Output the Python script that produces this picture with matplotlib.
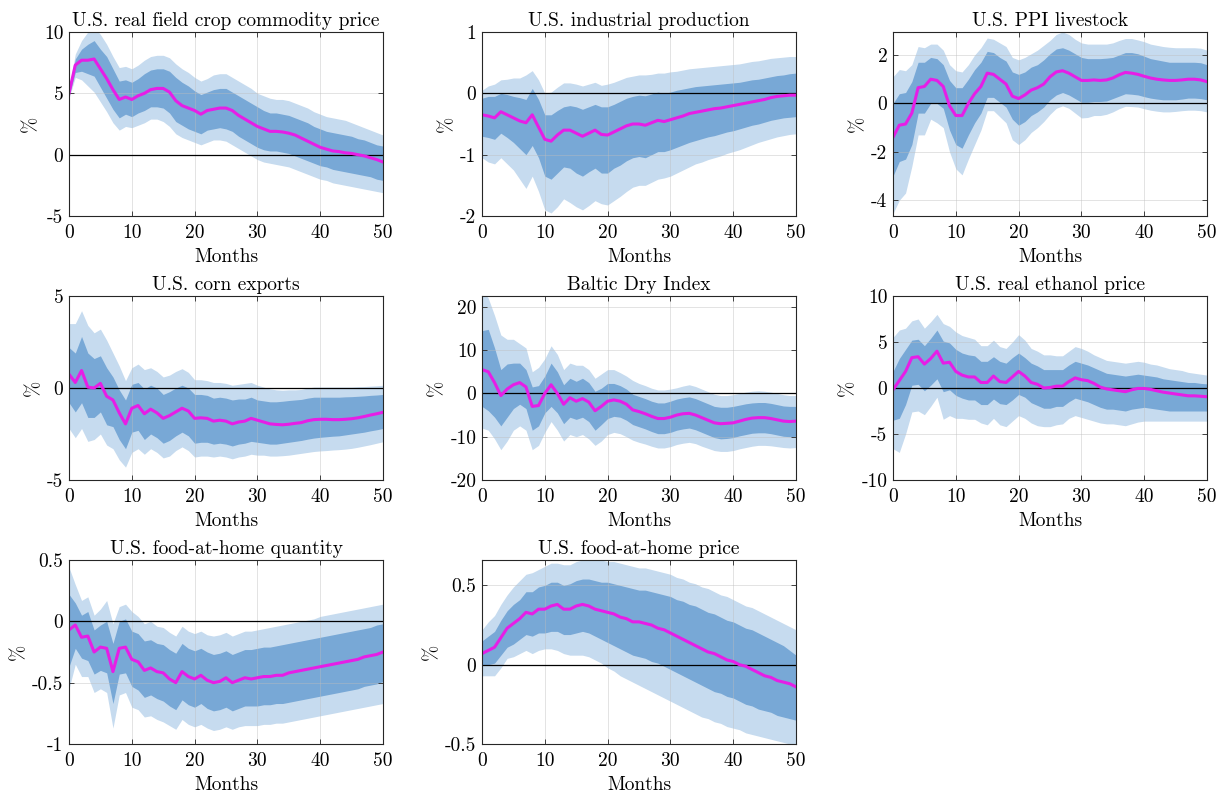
import matplotlib
matplotlib.use("Agg")
import matplotlib.pyplot as plt
import numpy as np

plt.rcParams['font.family'] = ['cmr10', 'DejaVu Serif']
plt.rcParams['axes.unicode_minus'] = False
plt.rcParams['axes.formatter.use_mathtext'] = True
plt.rcParams['mathtext.fontset'] = 'cm'

months = list(range(51))

# ---- U.S. real field crop commodity price ----
crop_med = [5.0, 7.3, 7.7, 7.7, 7.8, 7.0, 6.2, 5.3, 4.5, 4.7, 4.5, 4.8, 5.0, 5.3, 5.4, 5.4, 5.1, 4.4, 4.0, 3.8,
            3.6, 3.3, 3.6, 3.7, 3.8, 3.8, 3.6, 3.2, 2.9, 2.6, 2.3, 2.1, 1.9, 1.9, 1.85, 1.75, 1.6, 1.35, 1.1, 0.85,
            0.6, 0.45, 0.3, 0.25, 0.15, 0.1, 0.0, -0.1, -0.25, -0.4, -0.6]
crop_hi68 = [5.2, 7.8, 8.6, 9.0, 9.3, 8.6, 8.0, 7.0, 6.0, 6.1, 5.9, 6.2, 6.6, 6.9, 7.0, 7.0, 6.8, 6.3, 5.9, 5.6,
             5.2, 4.9, 5.1, 5.3, 5.4, 5.4, 5.1, 4.8, 4.5, 4.2, 3.9, 3.6, 3.4, 3.4, 3.3, 3.2, 3.0, 2.8, 2.6, 2.3,
             2.1, 1.9, 1.8, 1.7, 1.6, 1.5, 1.3, 1.2, 1.0, 0.8, 0.7]
crop_lo68 = [4.8, 6.7, 6.8, 6.6, 6.4, 5.5, 4.6, 3.7, 3.0, 3.3, 3.1, 3.4, 3.6, 3.9, 3.9, 3.8, 3.4, 2.7, 2.4, 2.1,
             1.9, 1.7, 2.0, 2.1, 2.2, 2.1, 1.9, 1.5, 1.2, 0.9, 0.6, 0.4, 0.3, 0.3, 0.2, 0.1, -0.1, -0.3, -0.5, -0.7,
             -0.9, -1.0, -1.2, -1.3, -1.4, -1.5, -1.6, -1.7, -1.8, -2.0, -2.1]
crop_hi90 = [5.4, 8.2, 9.3, 10.0, 10.4, 9.8, 9.0, 8.0, 7.1, 7.2, 7.0, 7.3, 7.7, 8.0, 8.1, 8.1, 7.9, 7.4, 7.0, 6.7,
             6.3, 6.0, 6.2, 6.5, 6.6, 6.6, 6.3, 6.0, 5.7, 5.4, 5.0, 4.8, 4.6, 4.5, 4.5, 4.4, 4.2, 4.0, 3.8, 3.5,
             3.3, 3.1, 3.0, 2.9, 2.8, 2.6, 2.4, 2.2, 2.0, 1.8, 1.6]
crop_lo90 = [4.6, 6.3, 6.1, 5.6, 5.1, 4.3, 3.5, 2.6, 2.0, 2.3, 2.2, 2.4, 2.6, 2.9, 2.9, 2.7, 2.3, 1.7, 1.4, 1.2,
             1.0, 0.8, 1.0, 1.2, 1.2, 1.1, 0.8, 0.5, 0.2, -0.1, -0.4, -0.6, -0.7, -0.8, -0.9, -1.0, -1.2, -1.4, -1.6, -1.8,
             -2.0, -2.1, -2.3, -2.4, -2.5, -2.6, -2.7, -2.8, -2.9, -3.0, -3.1]

# ---- U.S. industrial production ----
ip_med = [-0.35, -0.37, -0.40, -0.30, -0.35, -0.40, -0.45, -0.48, -0.35, -0.55, -0.75, -0.78, -0.68, -0.60, -0.60,
          -0.65, -0.70, -0.65, -0.60, -0.67, -0.68, -0.63, -0.58, -0.53, -0.50, -0.50, -0.52, -0.48, -0.44, -0.46,
          -0.43, -0.40, -0.37, -0.33, -0.31, -0.29, -0.27, -0.25, -0.24, -0.22, -0.20, -0.18, -0.16, -0.14, -0.12,
          -0.10, -0.07, -0.05, -0.04, -0.03, -0.03]
ip_hi68 = [-0.08, -0.05, -0.05, 0.0, -0.02, -0.05, -0.07, -0.10, 0.08, -0.10, -0.35, -0.35, -0.28, -0.22, -0.20,
           -0.22, -0.26, -0.22, -0.18, -0.22, -0.22, -0.18, -0.13, -0.08, -0.05, -0.03, -0.04, -0.01, 0.02, 0.0,
           0.02, 0.05, 0.07, 0.09, 0.11, 0.12, 0.13, 0.14, 0.15, 0.16, 0.17, 0.18, 0.20, 0.22, 0.23,
           0.25, 0.27, 0.29, 0.30, 0.32, 0.33]
ip_lo68 = [-0.70, -0.72, -0.75, -0.65, -0.72, -0.80, -0.90, -1.00, -0.85, -1.05, -1.35, -1.40, -1.30, -1.20, -1.22,
           -1.30, -1.35, -1.28, -1.22, -1.30, -1.30, -1.22, -1.17, -1.10, -1.05, -1.03, -1.05, -1.00, -0.95, -0.95,
           -0.92, -0.88, -0.84, -0.80, -0.77, -0.74, -0.71, -0.69, -0.66, -0.63, -0.61, -0.58, -0.55, -0.52, -0.50,
           -0.47, -0.44, -0.42, -0.40, -0.39, -0.38]
ip_hi90 = [0.05, 0.12, 0.15, 0.22, 0.23, 0.25, 0.25, 0.30, 0.37, 0.22, 0.0, 0.02, 0.10, 0.17, 0.17,
           0.15, 0.12, 0.15, 0.18, 0.13, 0.15, 0.18, 0.22, 0.26, 0.28, 0.30, 0.30, 0.31, 0.33, 0.33,
           0.35, 0.36, 0.38, 0.40, 0.41, 0.42, 0.43, 0.44, 0.45, 0.46, 0.47, 0.48, 0.50, 0.52, 0.53,
           0.55, 0.57, 0.58, 0.59, 0.60, 0.60]
ip_lo90 = [-1.05, -1.12, -1.15, -1.05, -1.15, -1.25, -1.40, -1.55, -1.35, -1.60, -1.90, -1.95, -1.85, -1.72, -1.78,
           -1.85, -1.90, -1.83, -1.75, -1.80, -1.82, -1.75, -1.68, -1.60, -1.53, -1.50, -1.50, -1.45, -1.40, -1.38,
           -1.35, -1.30, -1.25, -1.20, -1.15, -1.12, -1.08, -1.05, -1.02, -0.98, -0.95, -0.92, -0.88, -0.84, -0.80,
           -0.77, -0.74, -0.71, -0.69, -0.67, -0.66]

# ---- U.S. PPI livestock ----
ppi_med = [-1.4, -0.9, -0.85, -0.4, 0.65, 0.7, 1.0, 0.95, 0.7, -0.1, -0.5, -0.5, 0.0, 0.4, 0.7, 1.25, 1.2, 1.0, 0.8, 0.3,
           0.2, 0.35, 0.55, 0.65, 0.8, 1.1, 1.3, 1.35, 1.25, 1.1, 0.95, 0.95, 0.97, 0.95, 0.97, 1.05, 1.18, 1.28, 1.25, 1.2,
           1.12, 1.05, 1.0, 0.97, 0.95, 0.95, 0.97, 1.0, 1.0, 0.97, 0.9]
ppi_hi68 = [0.0, 0.4, 0.45, 0.9, 1.7, 1.7, 1.9, 1.85, 1.6, 0.95, 0.65, 0.65, 1.0, 1.4, 1.7, 2.15, 2.1, 1.9, 1.75, 1.3,
            1.2, 1.3, 1.5, 1.6, 1.8, 2.05, 2.25, 2.3, 2.2, 2.05, 1.9, 1.85, 1.85, 1.85, 1.87, 1.9, 2.0, 2.1, 2.1, 2.05,
            1.95, 1.85, 1.8, 1.75, 1.7, 1.7, 1.7, 1.7, 1.7, 1.68, 1.6]
ppi_lo68 = [-3.0, -2.4, -2.3, -1.7, -0.4, -0.4, 0.0, 0.0, -0.2, -1.1, -1.7, -1.85, -1.3, -0.8, -0.4, 0.25, 0.25, 0.05,
            -0.15, -0.65, -0.9, -0.75, -0.5, -0.35, -0.15, 0.15, 0.35, 0.45, 0.35, 0.2, 0.05, 0.05, 0.08, 0.08, 0.1,
            0.2, 0.3, 0.4, 0.38, 0.35, 0.28, 0.22, 0.18, 0.15, 0.15, 0.15, 0.18, 0.22, 0.22, 0.2, 0.15]
ppi_hi90 = [1.1, 1.4, 1.35, 1.6, 2.35, 2.3, 2.45, 2.45, 2.2, 1.6, 1.35, 1.3, 1.6, 2.0, 2.3, 2.7, 2.65, 2.5, 2.35, 1.9,
            1.8, 1.9, 2.05, 2.2, 2.4, 2.6, 2.85, 2.95, 2.85, 2.65, 2.5, 2.45, 2.45, 2.45, 2.45, 2.5, 2.6, 2.68, 2.68,
            2.62, 2.55, 2.45, 2.4, 2.35, 2.32, 2.3, 2.3, 2.3, 2.3, 2.28, 2.2]
ppi_lo90 = [-4.55, -4.0, -3.7, -2.6, -1.3, -1.3, -0.65, -0.8, -1.0, -2.0, -2.7, -2.95, -2.3, -1.7, -1.1, -0.3, -0.3,
            -0.55, -0.8, -1.5, -1.7, -1.5, -1.2, -1.0, -0.75, -0.45, -0.2, -0.1, -0.2, -0.4, -0.6, -0.58, -0.5, -0.5,
            -0.45, -0.35, -0.22, -0.12, -0.13, -0.15, -0.22, -0.28, -0.32, -0.35, -0.35, -0.33, -0.3, -0.28, -0.28,
            -0.3, -0.35]

# ---- U.S. corn exports ----
corn_med = [0.75, 0.3, 0.95, 0.05, 0.0, 0.25, -0.45, -0.65, -1.35, -1.95, -1.1, -0.95, -1.4, -1.15, -1.35, -1.65,
            -1.5, -1.3, -1.1, -1.25, -1.65, -1.62, -1.65, -1.8, -1.75, -1.8, -1.95, -1.85, -1.8, -1.65, -1.75, -1.85,
            -1.95, -1.98, -2.0, -1.97, -1.92, -1.88, -1.78, -1.72, -1.7, -1.7, -1.72, -1.72, -1.7, -1.67, -1.62,
            -1.55, -1.47, -1.4, -1.32]
corn_hi68 = [2.2, 1.9, 2.8, 1.9, 1.6, 1.75, 1.1, 0.6, -0.1, -0.65, 0.2, 0.3, -0.05, 0.15, 0.0, -0.35, -0.2, 0.0,
             0.15, 0.0, -0.35, -0.35, -0.4, -0.55, -0.5, -0.55, -0.65, -0.6, -0.6, -0.5, -0.65, -0.7, -0.75, -0.75,
             -0.72, -0.68, -0.65, -0.62, -0.55, -0.5, -0.5, -0.5, -0.5, -0.5, -0.48, -0.47, -0.45, -0.43, -0.4,
             -0.38, -0.35]
corn_lo68 = [-0.8, -1.3, -0.8, -1.6, -1.6, -1.3, -2.0, -2.1, -2.8, -3.3, -2.4, -2.3, -2.8, -2.5, -2.7, -3.0, -2.85,
             -2.6, -2.4, -2.6, -3.0, -2.95, -2.95, -3.05, -3.0, -3.05, -3.15, -3.05, -3.0, -2.9, -2.95, -3.0, -3.05,
             -3.05, -3.0, -2.95, -2.9, -2.85, -2.78, -2.72, -2.68, -2.65, -2.62, -2.6, -2.55, -2.5, -2.45, -2.4,
             -2.33, -2.27, -2.2]
corn_hi90 = [3.5, 3.5, 4.2, 3.4, 3.0, 3.2, 2.6, 1.9, 1.2, 0.4, 1.1, 1.3, 1.0, 1.1, 0.9, 0.6, 0.7, 0.9, 1.05, 0.85,
             0.45, 0.45, 0.4, 0.3, 0.3, 0.25, 0.15, 0.2, 0.25, 0.3, 0.15, 0.05, -0.05, -0.1, -0.12, -0.1, -0.1, -0.08,
             0.0, 0.05, 0.05, 0.05, 0.05, 0.05, 0.05, 0.05, 0.07, 0.08, 0.1, 0.12, 0.15]
corn_lo90 = [-2.2, -2.7, -2.2, -2.9, -2.8, -2.5, -3.1, -3.3, -3.9, -4.3, -3.5, -3.3, -3.6, -3.3, -3.5, -3.8, -3.7,
             -3.4, -3.2, -3.4, -3.75, -3.7, -3.7, -3.75, -3.7, -3.75, -3.85, -3.75, -3.7, -3.6, -3.65, -3.65, -3.7,
             -3.7, -3.68, -3.65, -3.6, -3.55, -3.5, -3.45, -3.42, -3.4, -3.37, -3.35, -3.32, -3.28, -3.22, -3.15,
             -3.08, -3.0, -2.92]

# ---- Baltic Dry Index ----
bdi_med = [5.5, 5.0, 2.5, -0.5, 1.0, 2.0, 2.5, 1.5, -3.0, -2.8, 0.0, 2.0, 0.0, -2.5, -1.0, -1.8, -1.2, -2.0, -4.0,
           -3.0, -1.8, -1.5, -1.8, -2.5, -3.8, -4.2, -4.7, -5.3, -5.8, -5.8, -5.5, -5.0, -4.7, -4.6, -5.0, -5.6,
           -6.2, -6.8, -7.0, -6.9, -6.8, -6.4, -6.0, -5.7, -5.6, -5.6, -5.8, -6.1, -6.4, -6.5, -6.4]
bdi_hi68 = [14.5, 14.8, 10.5, 5.5, 6.8, 7.0, 7.0, 5.5, 1.5, 1.8, 4.0, 7.0, 5.0, 2.0, 3.5, 2.8, 3.5, 2.5, 0.5, 1.2,
            2.3, 2.3, 1.8, 1.0, -0.2, -0.7, -1.2, -1.8, -2.2, -2.2, -1.8, -1.3, -1.0, -0.8, -1.2, -1.8, -2.4, -3.0,
            -3.2, -3.2, -3.0, -2.7, -2.4, -2.2, -2.1, -2.1, -2.3, -2.6, -2.9, -3.0, -3.0]
bdi_lo68 = [-3.0, -4.0, -5.5, -7.5, -5.5, -3.5, -2.5, -3.5, -8.5, -7.5, -4.5, -3.0, -4.5, -7.0, -5.5, -6.0, -5.5,
            -6.5, -8.5, -7.2, -5.8, -5.3, -5.5, -6.2, -7.2, -7.7, -8.2, -8.8, -9.3, -9.3, -9.0, -8.5, -8.2, -8.0,
            -8.4, -9.0, -9.6, -10.2, -10.5, -10.4, -10.2, -9.8, -9.5, -9.2, -9.1, -9.1, -9.3, -9.6, -9.9, -10.0, -9.9]
bdi_hi90 = [24.0, 22.0, 18.0, 13.5, 12.5, 12.5, 11.5, 10.5, 5.0, 6.0, 8.0, 11.0, 9.0, 5.5, 7.0, 6.5, 6.5, 5.5, 3.5,
            4.5, 5.5, 5.5, 4.8, 4.0, 3.0, 2.3, 1.8, 1.2, 0.8, 0.8, 1.0, 1.3, 1.7, 2.0, 1.6, 1.0, 0.4, -0.2, -0.5,
            -0.5, -0.3, 0.0, 0.3, 0.5, 0.6, 0.5, 0.3, 0.0, -0.3, -0.5, -0.5]
bdi_lo90 = [-8.0, -8.5, -10.5, -13.0, -11.0, -8.5, -7.5, -8.5, -13.0, -12.0, -9.0, -6.5, -8.5, -11.0, -9.5, -10.0,
            -9.5, -10.5, -12.0, -11.0, -9.5, -9.0, -9.3, -10.0, -10.8, -11.3, -11.7, -12.2, -12.6, -12.6, -12.3,
            -11.8, -11.5, -11.3, -11.6, -12.2, -12.7, -13.2, -13.4, -13.4, -13.2, -12.8, -12.5, -12.2, -12.0, -12.0,
            -12.1, -12.3, -12.5, -12.6, -12.5]

# ---- U.S. real ethanol price ----
eth_med = [-0.2, 0.8, 1.8, 3.3, 3.4, 2.6, 3.2, 4.0, 2.7, 2.8, 1.8, 1.4, 1.2, 1.2, 0.6, 0.6, 1.3, 0.7, 0.6, 1.2, 1.8,
           1.3, 0.6, 0.4, 0.0, 0.05, 0.2, 0.2, 0.7, 1.1, 0.9, 0.8, 0.5, 0.1, -0.1, -0.2, -0.3, -0.4, -0.2, -0.05,
           -0.05, -0.15, -0.3, -0.45, -0.55, -0.65, -0.75, -0.85, -0.85, -0.9, -0.95]
eth_hi68 = [1.8, 3.2, 4.2, 5.2, 5.3, 4.6, 5.4, 6.3, 5.1, 4.9, 4.2, 3.8, 3.6, 3.5, 2.9, 2.9, 3.4, 2.9, 2.7, 3.3, 3.8,
            3.3, 2.7, 2.4, 2.0, 2.0, 2.0, 2.0, 2.5, 2.9, 2.7, 2.5, 2.2, 1.9, 1.6, 1.5, 1.4, 1.3, 1.4, 1.5, 1.4, 1.3,
            1.2, 1.0, 0.9, 0.8, 0.7, 0.6, 0.6, 0.5, 0.45]
eth_lo68 = [-3.5, -3.3, -1.8, 0.3, 0.4, -0.3, 0.3, 1.0, -0.4, -0.2, -0.8, -1.1, -1.3, -1.3, -1.8, -1.8, -1.2, -1.7,
            -1.8, -1.3, -0.7, -1.0, -1.6, -1.9, -2.2, -2.2, -2.0, -2.0, -1.5, -1.1, -1.3, -1.5, -1.8, -2.1, -2.3,
            -2.3, -2.4, -2.5, -2.3, -2.2, -2.1, -2.2, -2.3, -2.4, -2.5, -2.5, -2.5, -2.5, -2.5, -2.5, -2.5]
eth_hi90 = [5.5, 6.3, 6.5, 7.3, 7.5, 6.5, 7.2, 8.0, 7.0, 6.7, 6.1, 5.7, 5.5, 5.3, 4.6, 4.6, 5.2, 4.5, 4.3, 5.0, 5.8,
            5.2, 4.3, 4.0, 3.6, 3.6, 3.5, 3.5, 4.0, 4.5, 4.3, 4.0, 3.6, 3.3, 3.0, 2.9, 2.8, 2.7, 2.8, 2.9, 2.8, 2.6,
            2.5, 2.3, 2.1, 2.0, 1.9, 1.7, 1.6, 1.5, 1.4]
eth_lo90 = [-6.6, -7.0, -5.0, -2.6, -2.5, -2.9, -2.0, -1.0, -3.4, -3.0, -3.3, -3.3, -3.4, -3.4, -3.8, -4.0, -3.3,
            -4.0, -4.2, -3.6, -3.0, -3.3, -3.8, -4.1, -4.2, -4.2, -4.0, -3.9, -3.3, -3.0, -3.2, -3.4, -3.6, -3.8,
            -3.9, -3.9, -4.0, -4.1, -3.9, -3.7, -3.6, -3.6, -3.6, -3.6, -3.6, -3.6, -3.6, -3.6, -3.6, -3.6, -3.6]

# ---- U.S. food-at-home quantity ----
fq_med = [-0.07, -0.03, -0.13, -0.12, -0.25, -0.21, -0.22, -0.41, -0.22, -0.21, -0.31, -0.33, -0.40, -0.38, -0.41,
          -0.42, -0.47, -0.50, -0.41, -0.45, -0.47, -0.44, -0.48, -0.50, -0.49, -0.46, -0.50, -0.48, -0.46, -0.47,
          -0.46, -0.45, -0.45, -0.44, -0.44, -0.42, -0.41, -0.40, -0.39, -0.38, -0.37, -0.36, -0.35, -0.34, -0.33,
          -0.32, -0.31, -0.29, -0.28, -0.27, -0.25]
fq_hi68 = [0.22, 0.15, 0.05, 0.08, -0.07, -0.03, 0.0, -0.18, 0.0, 0.02, -0.08, -0.10, -0.16, -0.15, -0.18, -0.19,
           -0.23, -0.26, -0.18, -0.22, -0.24, -0.22, -0.25, -0.27, -0.26, -0.24, -0.27, -0.25, -0.23, -0.23, -0.22,
           -0.21, -0.21, -0.20, -0.19, -0.18, -0.17, -0.16, -0.15, -0.14, -0.13, -0.12, -0.11, -0.10, -0.09, -0.08,
           -0.07, -0.06, -0.05, -0.03, -0.02]
fq_lo68 = [-0.37, -0.22, -0.30, -0.32, -0.43, -0.40, -0.42, -0.67, -0.43, -0.42, -0.53, -0.56, -0.62, -0.60, -0.63,
           -0.65, -0.69, -0.72, -0.64, -0.68, -0.70, -0.67, -0.71, -0.73, -0.72, -0.70, -0.73, -0.71, -0.69, -0.69,
           -0.69, -0.68, -0.68, -0.67, -0.67, -0.66, -0.65, -0.64, -0.63, -0.62, -0.61, -0.60, -0.59, -0.58, -0.57,
           -0.56, -0.55, -0.53, -0.52, -0.51, -0.49]
fq_hi90 = [0.44, 0.30, 0.17, 0.20, 0.05, 0.10, 0.17, -0.02, 0.12, 0.14, 0.08, 0.04, -0.02, 0.0, -0.04, -0.05, -0.09,
           -0.12, -0.04, -0.08, -0.10, -0.08, -0.11, -0.12, -0.11, -0.09, -0.12, -0.10, -0.08, -0.08, -0.07, -0.06,
           -0.05, -0.04, -0.03, -0.02, -0.01, 0.0, 0.01, 0.02, 0.04, 0.05, 0.06, 0.07, 0.08, 0.09, 0.10, 0.11, 0.12,
           0.13, 0.14]
fq_lo90 = [-0.55, -0.35, -0.45, -0.45, -0.58, -0.55, -0.58, -0.87, -0.60, -0.58, -0.70, -0.72, -0.78, -0.77, -0.80,
           -0.82, -0.85, -0.88, -0.80, -0.84, -0.86, -0.84, -0.87, -0.89, -0.88, -0.86, -0.88, -0.86, -0.85, -0.85,
           -0.85, -0.84, -0.84, -0.83, -0.83, -0.82, -0.81, -0.80, -0.79, -0.78, -0.77, -0.76, -0.75, -0.74, -0.73,
           -0.72, -0.71, -0.70, -0.69, -0.68, -0.67]

# ---- U.S. food-at-home price ----
fp_med = [0.07, 0.09, 0.11, 0.17, 0.23, 0.26, 0.29, 0.33, 0.32, 0.35, 0.35, 0.37, 0.38, 0.35, 0.35, 0.37, 0.38, 0.37,
          0.35, 0.34, 0.33, 0.32, 0.30, 0.29, 0.27, 0.27, 0.26, 0.25, 0.23, 0.22, 0.20, 0.18, 0.16, 0.14, 0.12, 0.10,
          0.08, 0.07, 0.05, 0.03, 0.02, 0.0, -0.01, -0.03, -0.05, -0.07, -0.08, -0.10, -0.11, -0.12, -0.14]
fp_hi68 = [0.15, 0.18, 0.21, 0.28, 0.34, 0.38, 0.41, 0.46, 0.46, 0.49, 0.50, 0.52, 0.52, 0.50, 0.51, 0.53, 0.54, 0.54,
           0.53, 0.52, 0.52, 0.51, 0.50, 0.49, 0.48, 0.47, 0.47, 0.46, 0.45, 0.44, 0.43, 0.41, 0.40, 0.38, 0.37, 0.35,
           0.33, 0.32, 0.30, 0.28, 0.27, 0.25, 0.23, 0.22, 0.20, 0.18, 0.16, 0.14, 0.12, 0.09, 0.06]
fp_lo68 = [0.0, 0.0, 0.01, 0.06, 0.11, 0.13, 0.16, 0.19, 0.18, 0.20, 0.20, 0.21, 0.21, 0.19, 0.19, 0.20, 0.21, 0.20,
           0.18, 0.16, 0.14, 0.12, 0.10, 0.08, 0.06, 0.05, 0.04, 0.02, 0.01, -0.01, -0.03, -0.05, -0.07, -0.09, -0.11,
           -0.13, -0.15, -0.17, -0.18, -0.20, -0.21, -0.23, -0.25, -0.26, -0.28, -0.29, -0.30, -0.32, -0.33, -0.34,
           -0.35]
fp_hi90 = [0.22, 0.27, 0.31, 0.38, 0.44, 0.49, 0.53, 0.57, 0.58, 0.60, 0.62, 0.64, 0.64, 0.63, 0.63, 0.65, 0.66, 0.66,
           0.66, 0.66, 0.65, 0.65, 0.64, 0.63, 0.62, 0.61, 0.61, 0.60, 0.59, 0.58, 0.57, 0.55, 0.54, 0.52, 0.51, 0.49,
           0.48, 0.46, 0.44, 0.43, 0.41, 0.39, 0.37, 0.36, 0.34, 0.32, 0.30, 0.28, 0.26, 0.24, 0.22]
fp_lo90 = [-0.07, -0.07, -0.07, -0.02, 0.04, 0.05, 0.07, 0.09, 0.07, 0.09, 0.10, 0.10, 0.09, 0.07, 0.06, 0.06, 0.06,
           0.05, 0.03, 0.01, -0.02, -0.04, -0.07, -0.09, -0.11, -0.13, -0.15, -0.17, -0.19, -0.21, -0.23, -0.25,
           -0.27, -0.29, -0.31, -0.33, -0.34, -0.36, -0.37, -0.39, -0.40, -0.41, -0.43, -0.44, -0.45, -0.46, -0.47,
           -0.48, -0.49, -0.50, -0.50]

titles = ["U.S. real field crop commodity price", "U.S. industrial production", "U.S. PPI livestock",
          "U.S. corn exports", "Baltic Dry Index", "U.S. real ethanol price",
          "U.S. food-at-home quantity", "U.S. food-at-home price"]
y_limits = [(-5, 10), (-2, 1), (-4.65, 2.95), (-5, 5), (-20, 22.5), (-10, 10), (-1, 0.5), (-0.5, 0.66)]
y_ticks = [[-5, 0, 5, 10], [-2, -1, 0, 1], [-4, -2, 0, 2], [-5, 0, 5], [-20, -10, 0, 10, 20],
           [-10, -5, 0, 5, 10], [-1, -0.5, 0, 0.5], [-0.5, 0, 0.5]]
y_ticklabels = [["-5", "0", "5", "10"], ["-2", "-1", "0", "1"], ["-4", "-2", "0", "2"], ["-5", "0", "5"],
                ["-20", "-10", "0", "10", "20"], ["-10", "-5", "0", "5", "10"], ["-1", "-0.5", "0", "0.5"],
                ["-0.5", "0", "0.5"]]
x_ticks = [0, 10, 20, 30, 40, 50]

series = [
    (crop_med, crop_lo68, crop_hi68, crop_lo90, crop_hi90),
    (ip_med, ip_lo68, ip_hi68, ip_lo90, ip_hi90),
    (ppi_med, ppi_lo68, ppi_hi68, ppi_lo90, ppi_hi90),
    (corn_med, corn_lo68, corn_hi68, corn_lo90, corn_hi90),
    (bdi_med, bdi_lo68, bdi_hi68, bdi_lo90, bdi_hi90),
    (eth_med, eth_lo68, eth_hi68, eth_lo90, eth_hi90),
    (fq_med, fq_lo68, fq_hi68, fq_lo90, fq_hi90),
    (fp_med, fp_lo68, fp_hi68, fp_lo90, fp_hi90),
]

W, H = 1221, 794
fig = plt.figure(figsize=(W / 100, H / 100), dpi=100)
fig.patch.set_facecolor("white")

col_left = [69, 482, 893]
row_top = [32, 296, 560]
ax_w, ax_h = 314, 184

light_blue = "#c6dbef"
dark_blue = "#78a8d6"
magenta = "#e61ee6"
fs = 14

for i, (title, (med, lo68, hi68, lo90, hi90)) in enumerate(zip(titles, series)):
    r, c = divmod(i, 3)
    left = col_left[c] / W
    bottom = 1 - (row_top[r] + ax_h) / H
    ax = fig.add_axes([left, bottom, ax_w / W, ax_h / H])
    ax.fill_between(months, lo90, hi90, color=light_blue, lw=0, zorder=1)
    ax.fill_between(months, lo68, hi68, color=dark_blue, lw=0, zorder=2)
    ax.axhline(0, color="black", lw=0.9, zorder=3)
    ax.plot(months, med, color=magenta, lw=2.2, zorder=4, solid_joinstyle="round")
    ax.set_xlim(0, 50)
    ax.set_ylim(*y_limits[i])
    ax.set_xticks(x_ticks)
    ax.set_xticklabels([str(t) for t in x_ticks])
    ax.set_yticks(y_ticks[i])
    ax.set_yticklabels(y_ticklabels[i])
    ax.grid(True, color="#bdbdbd", lw=0.5, alpha=0.6, zorder=5)
    ax.set_axisbelow(False)
    ax.tick_params(direction="in", top=True, right=True, length=3.5, width=0.6,
                   labelsize=fs, color="#262626")
    ax.tick_params(axis="x", pad=6)
    ax.tick_params(axis="y", pad=4)
    for s in ax.spines.values():
        s.set_linewidth(0.8)
        s.set_color("#262626")
        s.set_zorder(6)
    ax.set_title(title, fontsize=fs, pad=4)
    ax.set_xlabel("Months", fontsize=fs, labelpad=4)
    ax.set_ylabel("%", fontsize=fs, labelpad=3)

fig.savefig("out.png", dpi=100)
